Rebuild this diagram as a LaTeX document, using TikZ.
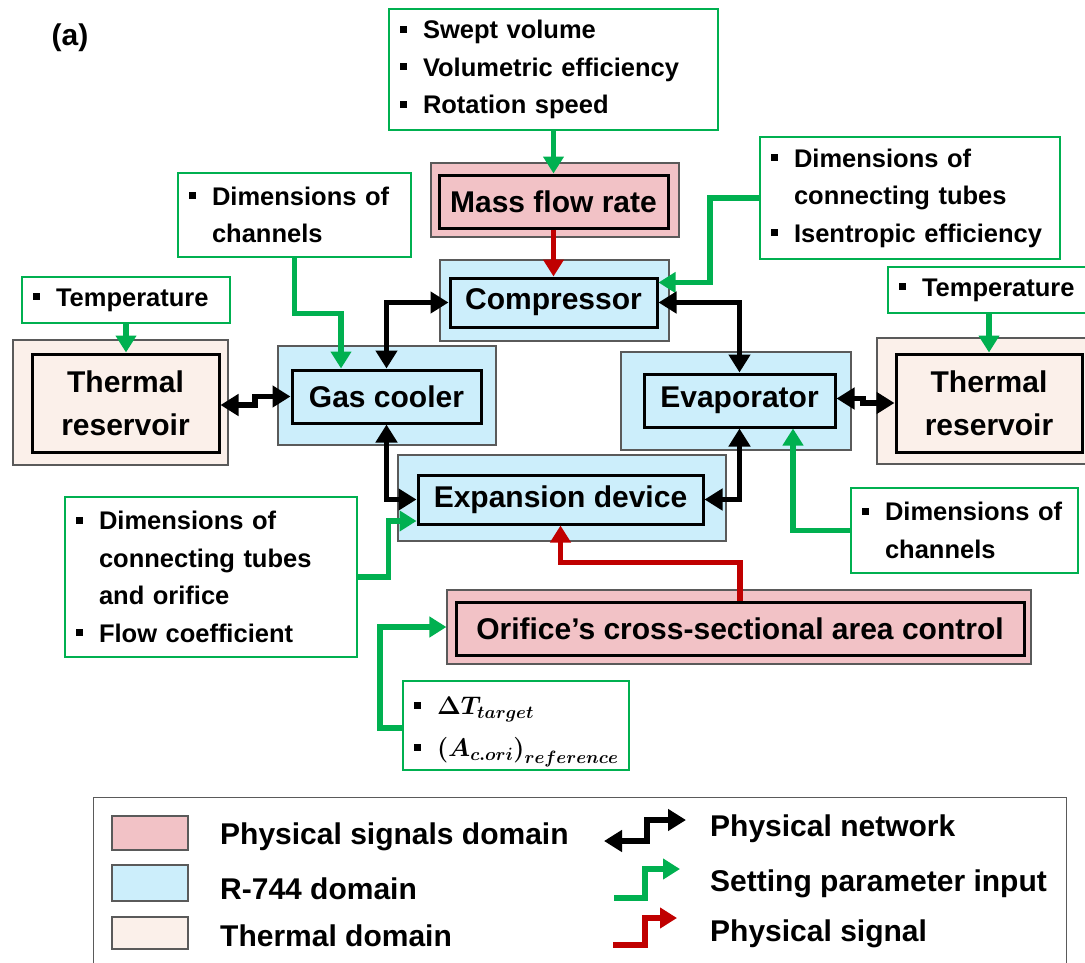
\RequirePackage{fix-cm}
\documentclass[tikz,border=0pt]{standalone}
\usepackage{amsmath,bm}
\usepackage{fontspec}
\setmainfont{Liberation Sans}
\usetikzlibrary{arrows.meta,calc}

\definecolor{sigfill}{RGB}{242,194,198}
\definecolor{reffill}{RGB}{204,238,251}
\definecolor{thfill}{RGB}{251,240,234}
\definecolor{pgreen}{RGB}{0,176,80}
\definecolor{sred}{RGB}{192,0,0}
\definecolor{boxgray}{RGB}{90,90,90}

\newcommand{\fntbig}{\fontsize{30}{43}\selectfont\bfseries}
\newcommand{\fntsmall}{\fontsize{25.5}{37.5}\selectfont\bfseries}
\newcommand{\fntmath}{\fontsize{25.5}{42}\selectfont}
\newcommand{\itemsq}{\makebox[23pt][l]{\rule[6pt]{7pt}{7pt}}}
\newcommand{\itemgap}{\hspace*{23pt}}

\tikzset{
  outer/.style={draw=boxgray, line width=1.2pt, inner sep=0pt},
  inner/.style={draw=black, line width=3pt, inner sep=0pt, font=\fntbig, align=center},
  param/.style={draw=pgreen, line width=2.5pt, fill=white, inner xsep=11pt,
                inner ysep=0pt, align=left, font=\fntsmall},
  arr/.style={line width=5.5pt},
  blk/.style={arr, draw=black, {Triangle[length=18pt,width=21pt]}-{Triangle[length=18pt,width=21pt]}},
  grn/.style={arr, draw=pgreen, -{Triangle[length=17pt,width=20pt]}},
  rd/.style={arr, draw=sred, -{Triangle[length=17pt,width=20pt]}},
  legtext/.style={anchor=west, inner sep=0pt, font=\fntbig},
}

\begin{document}
\begin{tikzpicture}[x=1pt,y=-1pt]
\useasboundingbox (0,0) rectangle (1085,962);
\clip (0,0) rectangle (1085,962);

\node[font=\fntbig] (lbl) at (70,38) {(a)};

% domain blocks: shaded outer frame with the component box inside
\node[outer, fill=sigfill, minimum width=248pt, minimum height=74pt] (mfo) at (555,200) {};
\node[inner, minimum width=229pt, minimum height=53pt] (mf) at (553.5,201.5) {Mass flow rate};

\node[outer, fill=reffill, minimum width=229pt, minimum height=81pt] (cpo) at (554.5,300.5) {};
\node[inner, minimum width=207pt, minimum height=49pt] (cp) at (553.5,302.5) {Compressor};

\node[outer, fill=reffill, minimum width=218pt, minimum height=99pt] (gco) at (387,395.5) {};
\node[inner, minimum width=189pt, minimum height=53pt] (gc) at (386.5,396.5) {Gas cooler};

\node[outer, fill=reffill, minimum width=230pt, minimum height=98pt] (evo) at (736,401) {};
\node[inner, minimum width=191pt, minimum height=53pt] (ev) at (739.5,400.5) {Evaporator};

\node[outer, fill=reffill, minimum width=328pt, minimum height=86pt] (exo) at (562,498) {};
\node[inner, minimum width=285pt, minimum height=49pt] (ex) at (560.5,499.5) {Expansion device};

\node[outer, fill=thfill, minimum width=215pt, minimum height=125pt] (tro1) at (120.5,402.5) {};
\node[inner, minimum width=187pt, minimum height=98pt] (tr1) at (125.5,403) {Thermal\\reservoir};

\node[outer, fill=thfill, minimum width=224pt, minimum height=126pt] (tro2) at (989,401) {};
\node[inner, minimum width=186pt, minimum height=98pt] (tr2) at (989,403) {Thermal\\reservoir};

\node[outer, fill=sigfill, minimum width=584pt, minimum height=74pt] (oro) at (739,627) {};
\node[inner, minimum width=568pt, minimum height=53pt] (ori) at (740,628.5) {Orifice’s cross-sectional area control};

% setting parameter boxes
\node[param, minimum width=329pt, minimum height=121pt, text width=307pt] (pm) at (553.5,69.5)
  {\itemsq Swept volume\\ \itemsq Volumetric efficiency\\ \itemsq Rotation speed};
\node[param, minimum width=208pt, minimum height=46pt, text width=186pt] (tp1) at (126,300)
  {\itemsq Temperature};
\node[param, minimum width=202pt, minimum height=46pt, text width=180pt] (tp2) at (989,290)
  {\itemsq Temperature};
\node[param, minimum width=233pt, minimum height=84pt, text width=211pt] (dc1) at (294.5,215)
  {\itemsq Dimensions of\\ \itemgap channels};
\node[param, minimum width=300pt, minimum height=122pt, text width=278pt] (dt2) at (910,198)
  {\itemsq Dimensions of\\ \itemgap connecting tubes\\ \itemsq Isentropic efficiency};
\node[param, minimum width=292pt, minimum height=160pt, text width=270pt] (dt1) at (211,577)
  {\itemsq Dimensions of\\ \itemgap connecting tubes\\ \itemgap and orifice\\ \itemsq Flow coefficient};
\node[param, minimum width=227pt, minimum height=85pt, text width=205pt] (dc2) at (964.5,530.5)
  {\itemsq Dimensions of\\ \itemgap channels};
\node[param, minimum width=226pt, minimum height=89pt, text width=204pt, font=\fntmath] (tg) at (516,725.5)
  {\rule{0pt}{31pt}\itemsq $\bm{\Delta T_{target}}$\\ \itemsq $\bm{(A_{c.ori})_{reference}}$};

% connectors
\draw[grn] (pm.south) -- (mf.north);
\draw[rd] (mf.south) -- (cp.north);
\draw[grn] (dt2.west) -- ++(-49,0) |- ([yshift=20pt]cp.east);
\draw[blk] (cp.west) -| (gc.north);
\draw[blk] (cp.east) -| (ev.north);
\draw[blk] (gc.south) |- (ex.west);
\draw[blk] (ev.south) |- (ex.east);
\draw[grn] (dc1.south) -- ++(0,55) -| ([xshift=-45.5pt]gc.north);
\draw[grn] (tp1.south) -- (tp1.south |- tr1.north);
\draw[grn] (tp2.south) -- (tp2.south |- tr2.north);
\coordinate (k1) at (255,396.5);
\draw[blk] ([yshift=-2pt]tr1.east) -| (k1) -- (gc.west);
\coordinate (k2) at (863,403);
\draw[blk] ([yshift=2pt]ev.east) -| (k2) -- (tr2.west);
\draw[grn] (dc2.west) -| ([xshift=53.5pt]ev.south);
\draw[grn] (dt1.east) -- ++(30,0) |- ([yshift=-21.5pt]ex.west);
\draw[rd] (ori.north) -- ++(0,-38) -| (ex.south);
\draw[grn] ([yshift=-2.5pt]tg.west) -- ++(-22,0) |- (oro.west);

% legend
\node[draw=boxgray, line width=1.2pt, minimum width=973pt, minimum height=190pt,
      anchor=north west, inner sep=0pt] (lg) at (93,797) {};
\node[outer, fill=sigfill, minimum width=76pt, minimum height=34pt] (sw1) at (150,833) {};
\node[outer, fill=reffill, minimum width=76pt, minimum height=36pt] (sw2) at (150,883) {};
\node[outer, fill=thfill, minimum width=76pt, minimum height=32pt] (sw3) at (150,933) {};
\node[legtext] (lt1) at (220,837) {Physical signals domain};
\node[legtext] (lt2) at (220,889) {R-744 domain};
\node[legtext] (lt3) at (220,936) {Thermal domain};
\node[legtext] (lt4) at (710,829) {Physical network};
\node[legtext] (lt5) at (710,884) {Setting parameter input};
\node[legtext] (lt6) at (710,934) {Physical signal};

\coordinate (ln1) at (604,841);
\coordinate (ln2) at (686,820);
\draw[blk] (ln1) -- ++(43,0) |- (ln2);
\coordinate (lg1) at (614,898);
\coordinate (lg2) at (680,869);
\draw[grn] (lg1) -- ++(31,0) |- (lg2);
\coordinate (lr1) at (613,945);
\coordinate (lr2) at (677,918);
\draw[rd] (lr1) -- ++(32,0) |- (lr2);
\end{tikzpicture}
\end{document}
